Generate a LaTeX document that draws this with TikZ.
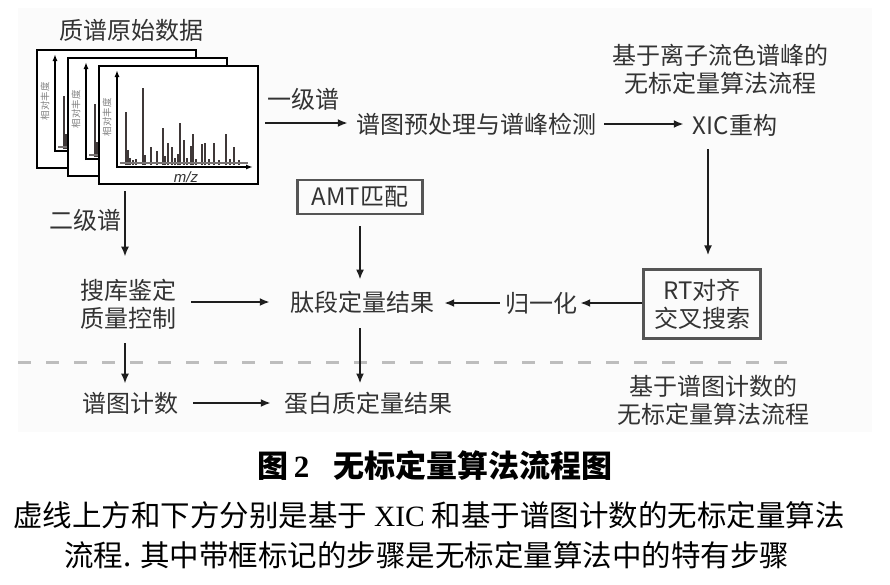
\documentclass[tikz,border=0pt]{standalone}
\usepackage{fontspec}
\setmainfont{Noto Sans CJK SC}
\newfontfamily\serifl{Liberation Serif}
\newfontfamily\sansl{Liberation Sans}
\usetikzlibrary{arrows.meta,calc}
\definecolor{txt}{HTML}{333333}
\definecolor{peakc}{HTML}{3F3838}
\definecolor{boxc}{HTML}{555555}
\definecolor{dashc}{HTML}{BDBDBD}
\definecolor{bgc}{HTML}{FBFBFB}
\definecolor{arrc}{HTML}{1E1E1E}
\newcommand\myspec[3]{%
\begin{scope}[shift={(#1,#2)}]
 \filldraw[fill=white,draw=black,line width=2pt] (99,66) rectangle (258,184);
 \foreach \px/\py in {126/112, 127.5/150, 130/158, 133/160, 136/159, 143/88, 145/155, 151/147, 157/151, 163/128, 165/156, 168/143, 172/147, 175/158, 178/154, 180/123, 184/140, 187/158, 191/146, 193/134, 196/159, 202/144, 205/143, 209/159, 214/143, 219/160, 226/134, 230/159, 234/147, 239/160}
   \draw[peakc,line width=2pt] (\px,165) -- (\px,\py);
 \draw[peakc!70,line width=1.2pt] (120,163) -- (248,163);
 \draw[black,line width=1.6pt,-{Latex[length=7pt,width=5pt]}] (116,167) -- (253,167);
 \draw[black,line width=1.6pt,-{Latex[length=7pt,width=5pt]}] (117,168) -- (117,70);
 \node[rotate=90,font=\fontsize{9.5}{10}\selectfont,text=gray,inner sep=0pt] (ylab#3) at (107,117) {相对丰度};
 \node[font=\sansl\fontsize{15}{16}\selectfont\itshape,text=txt,inner sep=0pt] (mz#3) at (186,177) {m/z};
\end{scope}}
\begin{document}
\begin{tikzpicture}[x=1pt,y=-1pt,
 lbl/.style={font=\fontsize{24}{28}\selectfont, text=txt, inner sep=0pt, align=center},
 arr/.style={line width=2pt, draw=arrc, -{Latex[length=10pt,width=8pt]}},
 stepbox/.style={lbl, draw=boxc, line width=2.2pt},
 captext/.style={font=\fontsize{29.5}{35}\selectfont, inner sep=0pt, text=black}]
\useasboundingbox (0,0) rectangle (890,584);
\fill[bgc] (18,8) rectangle (872,432);

% spectra stack
\myspec{-62}{-16}{a}
\myspec{-31}{-8}{b}
\myspec{0}{0}{c}

\node[lbl] (raw) at (131,30) {质谱原始数据};
\node[lbl] (ms1) at (303,99) {一级谱};
\node[lbl] (pre) at (476,124) {谱图预处理与谱峰检测};
\node[lbl] (xic) at (735,125) {XIC重构};
\node[lbl] (note1) at (720,69) {基于离子流色谱峰的\\无标定量算法流程};
\node[stepbox, minimum width=117pt, minimum height=69pt] (rt) at (702,304) {RT对齐\\交叉搜索};
\node[lbl] (norm) at (541,303) {归一化};
\node[lbl] (pep) at (362,302) {肽段定量结果};
\node[stepbox, minimum width=125pt, minimum height=34pt] (amt) at (360,197) {\raisebox{-4pt}{AMT匹配}};
\node[lbl] (ms2) at (85,220) {二级谱};
\node[lbl] (db) at (128,304) {搜库鉴定\\质量控制};
\node[lbl] (cnt) at (130,403) {谱图计数};
\node[lbl] (prot) at (368,403) {蛋白质定量结果};
\node[lbl] (note2) at (713,400) {基于谱图计数的\\无标定量算法流程};

% coordinates
\coordinate (s1) at (265,123);
\coordinate (s2) at (125,191);
\coordinate (c3) at (708,0);
\coordinate (dl) at (18,362);
\coordinate (dr) at (797,362);

% dashed separator
\draw[dashc, line width=3pt, dash pattern=on 13pt off 15pt] (dl) -- (dr);

% connectors
\draw[arr, shorten >=8pt] (s1) -- (pre.west |- s1);
\draw[arr, shorten <=8pt, shorten >=9pt] (pre.east) -- (pre.east -| xic.west);
\draw[arr, shorten >=3pt] (rt.west |- norm) -- (norm.east);
\draw[arr, shorten <=5pt, shorten >=10pt] (norm.west) -- (pep.east |- norm.west);
\draw[arr, shorten <=15pt, shorten >=20pt] (db.east |- pep) -- (pep.west);
\draw[arr, shorten <=15pt, shorten >=13pt] (cnt.east) -- (prot.west);
\draw[arr, shorten >=22pt] (s2) -- (s2 |- db.north);
\draw[arr, shorten <=14pt, shorten >=8pt] (db.south -| s2) -- (cnt.north -| s2);
\draw[arr, shorten <=11pt, shorten >=11pt] (amt.south) -- (amt.south |- pep.north);
\draw[arr, shorten <=15pt, shorten >=8pt] (pep.south -| amt.south) -- (prot.north -| amt.south);
\draw[arr, shorten <=13pt, shorten >=13pt] (xic.south -| c3) -- (rt.north -| c3);

% caption
\node[captext, font=\fontsize{31}{36}\selectfont\bfseries] (title) at (435,466) {图\,{\serifl\bfseries 2}\hspace{24pt}无标定量算法流程图};
\node[captext] (cap1) at (429,515) {虚线上方和下方分别是基于 {\serifl XIC} 和基于谱图计数的无标定量算法};
\node[captext] (cap2) at (427,555) {流程. 其中带框标记的步骤是无标定量算法中的特有步骤};
\end{tikzpicture}
\end{document}
